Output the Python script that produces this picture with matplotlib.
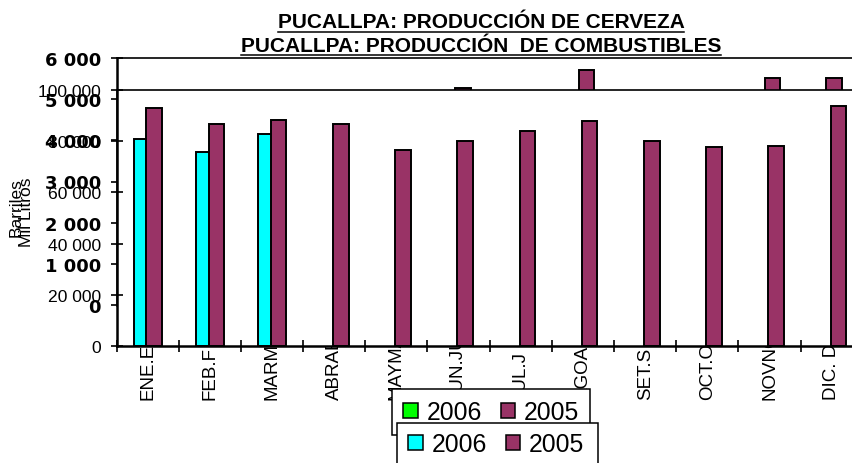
import numpy as np
import matplotlib
matplotlib.use('Agg')
import matplotlib.pyplot as plt
from matplotlib.patches import Patch, Rectangle
from matplotlib.lines import Line2D
from matplotlib.transforms import blended_transform_factory

# -----------------------------------------------------------------------------------------
# data

# labels under the x axis (two charts drawn on top of each other)
mes_labels = ['ENE.E', 'FEB.F', 'MARMA', 'ABRAB', 'MAYMA', 'JUN.JU',
              'JUL.J', 'AGOAG', 'SET.S', 'OCT.O', 'NOVNO', 'DIC. D']

# combustibles (Mil Litros)
comb_2006 = [80700, 75900, 82800]
comb_2005 = [93100, 86600, 88300, 86600, 76600, 80100,
             83900, 87900, 80100, 77900, 78200, 93900]

# cerveza (Barriles): only the tops above the second chart can be seen
cerv_2005 = [np.nan, np.nan, np.nan, np.nan, np.nan, 5280,
             np.nan, 5710, np.nan, np.nan, 5520, 5520]

cerv_ticks = [0, 1000, 2000, 3000, 4000, 5000, 6000]
comb_ticks = [0, 20000, 40000, 60000, 80000, 100000]

title_cerv = 'PUCALLPA: PRODUCCIÓN DE CERVEZA'
title_comb = 'PUCALLPA: PRODUCCIÓN  DE COMBUSTIBLES'

# -----------------------------------------------------------------------------------------

MAROON = '#993366'
CYAN = '#00FFFF'
GREEN = '#00FF00'

W, H = 853., 464.


def fx(px):
    return px / W


def fy(py):
    return 1. - py / H


def fmt(v):
    return '{:,}'.format(v).replace(',', ' ')


fig = plt.figure(figsize=(8.53, 4.64), dpi=100)

ax_c = fig.add_axes([fx(116.5), fy(306), 742.8 / W, (306 - 59) / H])
ax_f = fig.add_axes([fx(116.5), fy(347), 746.4 / W, (347 - 91) / H])
ax_c.set_zorder(1)
ax_f.set_zorder(2)
ax_c.set_facecolor('white')
ax_f.set_facecolor('white')

x = np.arange(12)

# lower chart: cerveza
cv = np.array(cerv_2005)
ok = ~np.isnan(cv)
ax_c.bar(x[ok] + 0.095, cv[ok], 0.25, color=MAROON, edgecolor='black', linewidth=1.4)
ax_c.set_xlim(-0.5, 11.5)
ax_c.set_ylim(0, 6000)
ax_c.set_yticks(cerv_ticks)
ax_c.set_yticklabels([fmt(v) for v in cerv_ticks], fontfamily='DejaVu Sans',
                     fontweight='bold', fontsize=13)
ax_c.tick_params(axis='y', direction='inout', length=8.6, width=1.2, pad=7)
ax_c.tick_params(axis='x', length=0, labelbottom=False)
ax_c.spines['bottom'].set_visible(False)
ax_c.spines['right'].set_visible(False)
ax_c.spines['left'].set_linewidth(1.8)
ax_c.spines['top'].set_linewidth(1.2)

# upper chart: combustibles
ax_f.bar(x[:len(comb_2006)] - 0.10, comb_2006, 0.25, color=CYAN, edgecolor='black', linewidth=1.4)
ax_f.bar(x + 0.105, comb_2005, 0.25, color=MAROON, edgecolor='black', linewidth=1.4)
ax_f.set_xlim(-0.5, 11.5)
ax_f.set_ylim(0, 100000)
ax_f.set_yticks(comb_ticks)
ax_f.set_yticklabels([fmt(v) for v in comb_ticks], fontfamily='Liberation Sans', fontsize=12.6)
ax_f.set_xticks(np.arange(-0.5, 12, 1))
ax_f.tick_params(axis='y', direction='inout', length=8.6, width=1.2, pad=7)
ax_f.tick_params(axis='x', direction='inout', length=8.6, width=1.2, labelbottom=False)
ax_f.spines['right'].set_visible(False)
ax_f.spines['left'].set_linewidth(1.8)
ax_f.spines['bottom'].set_linewidth(1.8)
ax_f.spines['top'].set_linewidth(1.2)

# month labels, top part hidden by the upper chart
trans = blended_transform_factory(ax_f.transData, fig.transFigure)
for i, lab in enumerate(mes_labels):
    ax_c.text(i, fy(400), lab, transform=trans, rotation=90, ha='center', va='bottom',
              fontsize=13.5, family=['Liberation Sans Narrow', 'Liberation Sans'], clip_on=False)

# legends
leg_kw = dict(ncol=2, loc='upper left', bbox_transform=fig.transFigure, borderaxespad=0,
              fancybox=False, framealpha=1, edgecolor='black',
              prop={'family': 'Liberation Sans', 'size': 17.8},
              handlelength=0.6, handleheight=0.6, handletextpad=0.35,
              columnspacing=0.75, borderpad=0.45)

leg1 = ax_c.legend(handles=[Patch(facecolor=GREEN, edgecolor='black', linewidth=1.1),
                            Patch(facecolor=MAROON, edgecolor='black', linewidth=1.1)],
                   labels=['2006', '2005'], bbox_to_anchor=(fx(392), fy(390)), **leg_kw)
leg1.get_frame().set_linewidth(1.1)

# second legend box runs past the bottom edge of the picture
box2 = Rectangle((fx(397), fy(472)), (598 - 397) / W, (472 - 424) / H,
                 transform=fig.transFigure, facecolor='white', edgecolor='black',
                 linewidth=1.1, clip_on=False, zorder=4.9)
ax_f.add_artist(box2)
leg_kw['frameon'] = False
leg2 = ax_f.legend(handles=[Patch(facecolor=CYAN, edgecolor='black', linewidth=1.1),
                            Patch(facecolor=MAROON, edgecolor='black', linewidth=1.1)],
                   labels=['2006', '2005'], bbox_to_anchor=(fx(397), fy(422)), **leg_kw)

# axis titles
fig.text(fx(16), fy(178), 'Barriles', rotation=90, ha='center', va='top',
         fontsize=12.5, family='Liberation Sans')
fig.text(fx(27), fy(178), 'Mil Litros', rotation=90, ha='center', va='top',
         fontsize=12.5, family='Liberation Sans')

# titles with underline
t1 = fig.text(fx(481), fy(28.5), title_cerv, ha='center', va='baseline',
              fontsize=15, fontweight='bold', family='Liberation Sans')
t2 = fig.text(fx(481), fy(52), title_comb, ha='center', va='baseline',
              fontsize=15, fontweight='bold', family='Liberation Sans')

fig.canvas.draw()
r = fig.canvas.get_renderer()
for t, yl in [(t1, 32.5), (t2, 55.5)]:
    bb = t.get_window_extent(r)
    fig.add_artist(Line2D([bb.x0 / W, bb.x1 / W], [fy(yl), fy(yl)],
                          transform=fig.transFigure, color='black', linewidth=1.1))

fig.savefig('out.png', dpi=100)
